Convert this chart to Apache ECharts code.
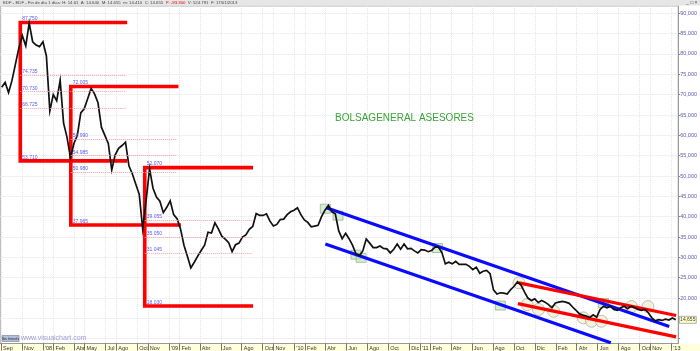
<!DOCTYPE html>
<html><head><meta charset="utf-8">
<script src="https://cdn.jsdelivr.net/npm/echarts@6/dist/echarts.min.js"></script>
<style>html,body{margin:0;padding:0;background:#fff}#c{width:700px;height:351px}</style>
</head><body><div id="c"></div>
<script>
// ---------- DATA ----------
const priceStartDate = '2007-09-03';
const priceStepDays = 10;
const closeValues = [
  71.8, 73.0, 70.5, 73.5, 77.5, 81.5, 84.5, 82.0, 87.6, 83.0,
  82.2, 81.8, 83.0, 79.5, 66.0, 70.0, 68.5, 73.5, 63.0, 59.5,
  54.5, 58.0, 60.0, 65.5, 66.5, 69.0, 71.5, 70.2, 68.0, 62.0,
  60.0, 58.0, 51.5, 55.2, 56.8, 57.5, 58.3, 52.5, 50.5, 48.0,
  45.5, 37.0, 44.0, 51.8, 47.0, 44.8, 43.8, 41.0, 42.3, 43.9,
  40.5, 39.5, 37.0, 33.0, 30.3, 27.4, 28.8, 30.3, 31.7, 33.0,
  36.2, 36.0, 38.5, 37.0, 35.2, 34.5, 33.6, 31.4, 33.1, 33.5,
  35.0, 35.5, 36.9, 37.6, 40.8, 40.3, 40.3, 40.7, 38.9, 37.7,
  38.1, 39.3, 39.4, 40.5, 41.2, 41.6, 42.2, 40.5, 39.2, 38.6,
  37.5, 37.7, 37.9, 40.0, 41.6, 42.8, 41.2, 40.7, 36.5, 34.6,
  35.9, 34.6, 33.0, 30.9, 30.4, 31.6, 34.5, 33.5, 32.4, 32.4,
  32.8, 32.2, 32.1, 31.1, 32.0, 33.3, 32.0, 33.3, 32.1, 32.2,
  31.6, 31.1, 31.9, 31.8, 31.4, 31.7, 32.5, 32.5, 31.2, 28.4,
  28.8, 28.4, 29.0, 28.3, 28.3, 28.3, 27.8, 27.0, 27.6, 26.1,
  26.6, 26.8, 26.0, 22.0, 21.0, 21.3, 21.2, 21.0, 22.1, 22.9,
  24.0, 23.2, 21.5, 20.0, 19.4, 19.8, 18.9, 19.4, 19.0, 18.4,
  17.6, 18.8, 19.0, 19.2, 19.0, 18.7, 17.8, 17.0, 16.1, 15.8,
  15.6, 15.2, 15.9, 15.3, 17.2, 18.0, 17.6, 18.0, 17.2, 17.0,
  17.6, 18.0, 17.4, 18.0, 17.6, 17.2, 17.0, 17.2, 16.4, 15.2,
  14.4, 14.7, 14.5, 14.8, 14.6, 15.1, 14.655
];
const lastPriceLabel = '14,655';

// Fibonacci structures
const fibTop = [87.75, 72.005, 52.07];
const fibBottom = [53.71, 37.965, 18.03];
const fibLevels = [[74.735, 70.73, 66.725], [58.99, 54.985, 50.98], [39.055, 35.05, 31.045]];
const fibStartDates = ['2007-10-27', '2008-03-22', '2008-10-23'];
const fibTopEndDates = ['2008-09-02', '2009-01-29', '2009-09-03'];
const fibBottomEndDates = ['2008-09-02', '2009-02-05', '2009-09-03'];
const fibDotEndDates = ['2008-08-28', '2009-01-25', '2009-08-30'];

// channel lines
const blueUpper = [['2010-04-04', 42.21], ['2012-12-26', 13.0]];
const blueLower = [['2010-04-01', 33.30], ['2012-07-09', 8.99]];
const redUpper = [['2011-10-16', 23.73], ['2013-01-15', 15.70]];
const redLower = [['2011-10-13', 18.64], ['2013-01-15', 10.47]];

// touch markers
const squareMarks = [['2010-04-01', 41.96], ['2010-05-08', 40.25], ['2010-06-29', 30.67], ['2010-07-14', 29.9],
  ['2011-02-21', 32.3], ['2011-08-23', 18.16], ['2012-06-18', 18.77]];
const circleMarks = [['2011-10-16', 23.73], ['2011-11-09', 18.4], ['2011-12-12', 17.2], ['2012-01-25', 16.75],
  ['2012-04-20', 15.13], ['2012-05-14', 14.3], ['2012-06-12', 14.3], ['2012-09-07', 17.9], ['2012-10-25', 17.9]];

// axes
const xTickDates = ['2007-09-01','2007-11-01','2008-01-01','2008-02-01','2008-04-01','2008-05-01','2008-07-01','2008-08-01',
  '2008-10-01','2008-11-01','2009-01-01','2009-02-01','2009-04-01','2009-06-01','2009-08-01','2009-10-01','2009-11-01',
  '2010-01-01','2010-02-01','2010-04-01','2010-06-01','2010-08-01','2010-10-01','2010-12-01','2011-01-01','2011-02-01',
  '2011-04-01','2011-06-01','2011-08-01','2011-10-01','2011-12-01','2012-02-01','2012-04-01','2012-06-01','2012-08-01',
  '2012-10-01','2012-11-01','2013-01-01'];
const xTickLabels = ['Sep','Nov',"'08",'Feb','Abr','May','Jul','Ago','Oct','Nov',"'09",'Feb','Abr','Jun','Ago','Oct','Nov',
  "'10",'Feb','Abr','Jun','Ago','Oct','Dic',"'11",'Feb','Abr','Jun','Ago','Oct','Dic','Feb','Abr','Jun','Ago','Oct','Nov',"'13"];
const yTickValues = [10,15,20,25,30,35,40,45,50,55,60,65,70,75,80,85,90];
const yLabelValues = [20,25,30,35,40,45,50,55,60,65,70,75,80,85,90];
const xMinDate = '2007-08-30', xMaxDate = '2013-01-21';
const yMin = 8.83, yMax = 91.79;

// ---------- BUILD ----------
function ts(s){const p=s.split('-');return Date.UTC(+p[0],+p[1]-1,+p[2]);}
const DAY = 86400000;
const priceData = closeValues.map((v,i)=>[ts(priceStartDate)+i*priceStepDays*DAY, v]);
const lastPoint = priceData[priceData.length-1];
const xTickTs = xTickDates.map(ts);
const labelMap = {}; xTickTs.forEach((t,i)=>labelMap[t]=xTickLabels[i]);
const pts = arr => arr.map(p=>[ts(p[0]), p[1]]);
const fmt3 = v => v.toFixed(3);
const FONT = 'Liberation Sans, Arial, sans-serif';

const series = [];
// markers
series.push({type:'scatter', z:1, symbol:'rect', symbolSize:[10,9], data:pts(squareMarks),
  itemStyle:{color:'rgba(190,228,180,0.8)', borderColor:'#88a084', borderWidth:0.8}, silent:true});
series.push({type:'scatter', z:1, symbol:'circle', symbolSize:12, data:pts(circleMarks),
  itemStyle:{color:'rgba(238,236,205,0.8)', borderColor:'#a0a088', borderWidth:0.8}, silent:true});

// fib structures
for (let k=0;k<3;k++){
  const ml = [];
  fibLevels[k].forEach(l=>{
    ml.push([{coord:[ts(fibStartDates[k]), l], value:l}, {coord:[ts(fibDotEndDates[k]), l]}]);
  });
  ml.push([{coord:[ts(fibStartDates[k]), fibTop[k]], value:fibTop[k], lineStyle:{color:'transparent'}}, {coord:[ts(fibTopEndDates[k]), fibTop[k]]}]);
  ml.push([{coord:[ts(fibStartDates[k]), fibBottom[k]], value:fibBottom[k], lineStyle:{color:'transparent'}}, {coord:[ts(fibBottomEndDates[k]), fibBottom[k]]}]);
  series.push({
    type:'line', z:3, symbol:'none', silent:true, clip:false,
    data:[[ts(fibTopEndDates[k]), fibTop[k]], [ts(fibStartDates[k]), fibTop[k]], [ts(fibStartDates[k]), fibBottom[k]], [ts(fibBottomEndDates[k]), fibBottom[k]]],
    lineStyle:{color:'#ff0000', width:3.6, join:'miter', cap:'butt'},
    markLine:{silent:true, symbol:'none', animation:false,
      lineStyle:{color:'#f2a2a2', type:'dotted', width:1},
      label:{show:true, position:'insideStartTop', distance:[2,1], formatter:p=>fmt3(p.value), fontSize:5, color:'#5a5af0', fontFamily:FONT},
      emphasis:{disabled:true},
      data:ml}
  });
}
// channels
[[blueUpper,'#0a0aff'],[blueLower,'#0a0aff'],[redUpper,'#ff0000'],[redLower,'#ff0000']].forEach(([d,c])=>{
  series.push({type:'line', z:3, symbol:'none', silent:true, data:pts(d), lineStyle:{color:c, width:3.2}});
});
// price
series.push({type:'line', z:4, symbol:'none', silent:true, clip:false, data:priceData,
  lineStyle:{color:'#111', width:1.7, join:'miter'},
  markPoint:{silent:true, animation:false, data:[{coord:lastPoint, symbol:'rect', symbolSize:[17,7], symbolOffset:[12,0],
    itemStyle:{color:'#ffffc8', borderColor:'#888', borderWidth:0.6},
    label:{show:true, formatter:lastPriceLabel, fontSize:5, color:'#444', fontFamily:FONT}}]}
});

const option = {
  animation:false,
  backgroundColor:'#fff',
  textStyle:{fontFamily:FONT},
  grid:{left:0, right:18, top:6, bottom:7, show:true, borderColor:'#b0b0b0', borderWidth:1},
  xAxis:{type:'value', min:ts(xMinDate), max:ts(xMaxDate), scale:true,
    axisLine:{show:true, onZero:false, lineStyle:{color:'#999', width:1}},
    axisTick:{show:true, customValues:xTickTs, length:7, lineStyle:{color:'#777'}},
    axisLabel:{customValues:xTickTs, formatter:v=>labelMap[v]||'', align:'left', padding:[0,0,0,2], margin:1.5, fontSize:5.5, color:'#333', hideOverlap:false},
    splitLine:{show:true, lineStyle:{color:'#e4e4e4', type:'dotted', width:1}}
  },
  yAxis:{type:'value', position:'right', min:yMin, max:yMax,
    axisLine:{show:true, lineStyle:{color:'#999'}},
    axisTick:{show:true, customValues:yTickValues, length:2, lineStyle:{color:'#888'}},
    axisLabel:{customValues:yLabelValues, formatter:v=>v.toFixed(3).replace('.',','), fontSize:5.5, color:'#5a5ab4', margin:2},
    splitLine:{show:true, lineStyle:{color:'#e4e4e4', type:'dotted', width:1}}
  },
  series:series,
  graphic:[
    {type:'rect', z:-10, silent:true, shape:{x:0,y:344,width:700,height:7}, style:{fill:'#ffffdc'}},
    {type:'rect', z:50, silent:true, shape:{x:0,y:0,width:700,height:5.5}, style:{fill:'#e6e6e6'}},
    {type:'text', z:51, silent:true, x:3, y:3, style:{
      text:'{a|EDF - EDF - Fin de día 1 días: H: 14.61  A: 14.640  M: 14.655  m: 14.410  C: 14.655  }{r|P: -93.300}{a|  V: 524.791  F: 17/01/2013}',
      verticalAlign:'middle', rich:{a:{fontSize:4.3, fill:'#444', fontFamily:FONT}, r:{fontSize:4.3, fill:'#e00000', fontFamily:FONT}}}},
    {type:'text', z:51, silent:true, x:686, y:3, style:{text:'_ □ ×', fontSize:5, fill:'#555', verticalAlign:'middle', fontFamily:FONT}},
    {type:'text', z:5, silent:true, x:335, y:118, style:{text:'BOLSAGENERAL ASESORES', fontSize:10, fill:'#38a438', verticalAlign:'middle', fontFamily:FONT}},
    {type:'rect', z:5, silent:true, shape:{x:2,y:335.5,width:17,height:6}, style:{fill:'#b4c0d8', stroke:'#6a7a9a', lineWidth:0.6}},
    {type:'text', z:6, silent:true, x:10.5, y:338.5, style:{text:'Sin Interés', fontSize:3.6, fill:'#223', align:'center', verticalAlign:'middle', fontFamily:FONT}},
    {type:'text', z:5, silent:true, x:21, y:338.5, style:{text:'www.visualchart.com', fontSize:7, fill:'#9c9cd6', verticalAlign:'middle', fontFamily:FONT}}
  ]
};
const chart = echarts.init(document.getElementById('c'), null, {renderer:'canvas'});
chart.setOption(option);
</script>
</body></html>
